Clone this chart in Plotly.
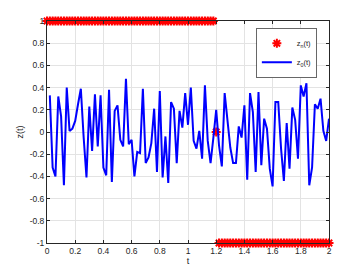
import numpy as np
import plotly.graph_objects as go

# sampling grids
t_line = np.round(np.arange(1, 101) * 0.02, 2)   # 0.02 .. 2.00
t_mark = np.round(np.arange(0, 101) * 0.02, 2)   # 0.00 .. 2.00

# z_0(t) values
z0 = [0.33, -0.32, -0.40, 0.32, 0.14, -0.48, 0.40, 0.01, 0.03, 0.10,
      0.25, 0.39, -0.05, -0.41, 0.23, -0.17, 0.34, -0.13, 0.33, -0.32,
      -0.39, 0.38, -0.45, 0.19, 0.24, -0.07, -0.13, 0.48, -0.11, -0.07,
      -0.40, -0.18, -0.19, 0.39, -0.28, -0.23, -0.10, 0.21, -0.36, 0.37,
      -0.41, -0.04, -0.46, 0.27, 0.21, -0.28, 0.19, 0.04, 0.35, 0.065,
      0.40, -0.08, -0.15, 0.01, -0.24, 0.42, -0.08, -0.28, -0.05, 0.20,
      -0.12, -0.31, 0.35, 0.07, -0.14, -0.28, -0.28, 0.05, -0.05, 0.24,
      -0.43, 0.35, 0.18, -0.36, 0.36, -0.30, 0.12, 0.03, -0.33, -0.49,
      0.27, 0.27, -0.15, -0.44, 0.08, -0.33, 0.22, 0.11, -0.24, 0.42,
      0.32, 0.44, -0.48, -0.32, 0.25, 0.21, 0.30, 0.01, -0.08, 0.12]

# z_n(t): +1 up to 1.18, 0 at 1.2, -1 afterwards
zn = [1] * 60 + [0] + [-1] * 40

x_ticks = [0, 0.2, 0.4, 0.6, 0.8, 1, 1.2, 1.4, 1.6, 1.8, 2]
x_labels = ["0", "0.2", "0.4", "0.6", "0.8", "1", "1.2", "1.4", "1.6", "1.8", "2"]
y_ticks = [-1, -0.8, -0.6, -0.4, -0.2, 0, 0.2, 0.4, 0.6, 0.8, 1]
y_labels = ["-1", "-0.8", "-0.6", "-0.4", "-0.2", "0", "0.2", "0.4", "0.6", "0.8", "1"]

FONT = "Liberation Sans, Arial, sans-serif"
AX = "#262626"
GRID = "#e3e3e3"

fig = go.Figure()
fig.add_trace(go.Scatter(
    x=t_mark, y=zn, mode="markers", name="z<sub>n</sub>(t)",
    cliponaxis=False,
    marker=dict(symbol="asterisk-open", size=7.5, color="#ff0000",
                line=dict(color="#ff0000", width=2)),
))
fig.add_trace(go.Scatter(
    x=t_line, y=z0, mode="lines", name="z<sub>0</sub>(t)",
    line=dict(color="#0000ff", width=2),
))

axis_common = dict(
    showline=True, linecolor=AX, linewidth=1, mirror="ticks",
    ticks="inside", ticklen=3, tickcolor=AX, tickwidth=1,
    showgrid=True, gridcolor=GRID, gridwidth=1, zeroline=False,
    tickfont=dict(family=FONT, size=8.5, color=AX),
    automargin=False,
)

fig.update_layout(
    width=355, height=265,
    margin=dict(l=39, r=34, t=13, b=30),
    paper_bgcolor="white", plot_bgcolor="white",
    font=dict(family=FONT, size=8.5, color=AX),
    showlegend=True,
    legend=dict(
        x=0.958, y=0.968, xanchor="right", yanchor="top",
        bgcolor="white", bordercolor=AX, borderwidth=0.7,
        font=dict(family=FONT, size=7.5, color=AX),
        itemwidth=30, tracegroupgap=0,
    ),
    xaxis=dict(range=[0, 2], tickvals=x_ticks, ticktext=x_labels,
               title=dict(text="t", standoff=2,
                          font=dict(family=FONT, size=9, color=AX)),
               **axis_common),
    yaxis=dict(range=[-1, 1], tickvals=y_ticks, ticktext=y_labels,
               title=dict(text="z(t)", standoff=4,
                          font=dict(family=FONT, size=9, color=AX)),
               **axis_common),
)

fig.write_html("out.html")
